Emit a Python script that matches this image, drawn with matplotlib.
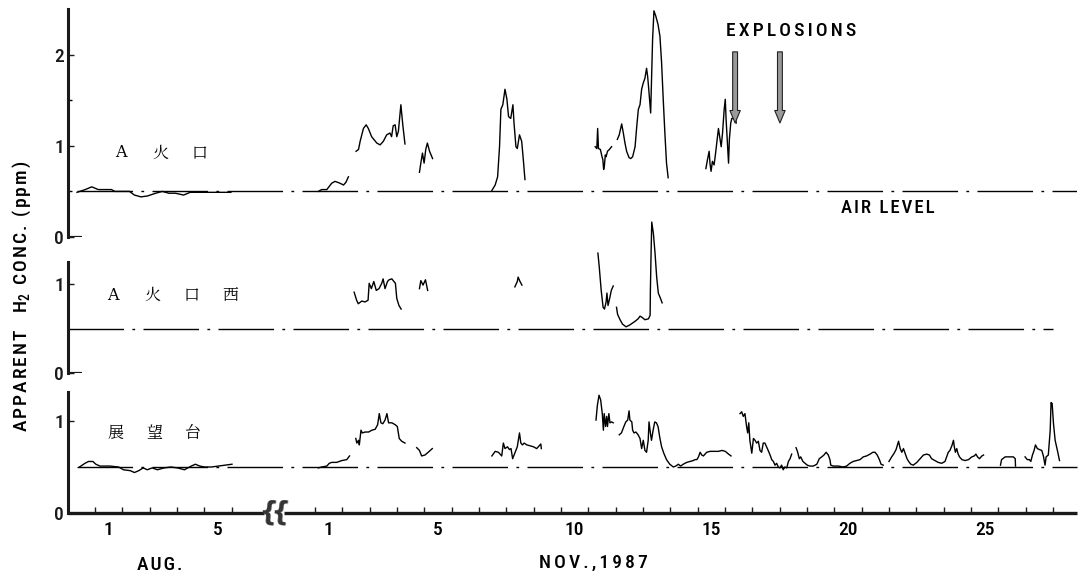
import numpy as np
import matplotlib
matplotlib.use('Agg')
import matplotlib.pyplot as plt

plt.rcParams['font.family'] = ['Roboto Condensed', 'Roboto', 'DejaVu Sans']
plt.rcParams['font.weight'] = 'medium'
plt.rcParams['mathtext.fontset'] = 'custom'
plt.rcParams['mathtext.rm'] = 'Roboto Condensed:medium'

# ---------------- data (day-of-month, fractional; d=1.0 is 00:00 of the 1st) -------------
aug_tick_days = [1, 2, 3, 4, 5, 6]
nov_tick_days = list(range(1, 29))
aug_label_days = [1, 5]
nov_label_days = [1, 5, 10, 15, 20, 25]
air_level = 0.5
explosion_days_nov = [16.37, 18.01]
station_names = [["A", "火", "口"], ["A", "火", "口", "西"], ["展", "望", "台"]]

# --- A火口 (top panel)
top_aug_t = [0.34, 0.64, 0.88, 1.12, 1.42, 1.60, 1.72, 2.14, 2.26, 2.44, 2.68, 2.92, 3.22, 3.46,
             3.70, 3.94, 4.24, 4.48, 4.78, 5.02, 5.26, 5.56, 5.97]
top_aug_v = [0.49, 0.52, 0.55, 0.52, 0.52, 0.52, 0.50, 0.50, 0.50, 0.46, 0.44, 0.45, 0.48, 0.50,
             0.48, 0.48, 0.46, 0.49, 0.49, 0.49, 0.49, 0.49, 0.49]
top_nov_t = [
    [1.12, 1.24, 1.43, 1.61, 1.73, 1.91, 2.04, 2.13, 2.22],
    [2.50, 2.59, 2.65, 2.77, 2.87, 2.95, 3.07, 3.26, 3.38, 3.50, 3.62, 3.74, 3.80, 3.86, 3.93,
     3.99, 4.05, 4.14, 4.21, 4.29],
    [4.82, 4.87, 4.93, 4.99, 5.05, 5.11, 5.19, 5.30],
    [7.47, 7.59, 7.68, 7.75, 7.80, 7.87, 7.95, 8.02, 8.08, 8.16, 8.24, 8.28, 8.35, 8.40, 8.48,
     8.56, 8.62, 8.68],
    [11.25, 11.31, 11.34, 11.37, 11.44, 11.50, 11.53, 11.56, 11.59, 11.62, 11.65, 11.70, 11.77, 11.85],
    [12.06, 12.13, 12.22, 12.28, 12.34, 12.40, 12.49, 12.55, 12.62, 12.71, 12.77, 12.83, 12.89,
     12.95, 13.01, 13.07, 13.13, 13.17, 13.21, 13.28, 13.31, 13.35, 13.40, 13.47, 13.55, 13.62,
     13.68, 13.74, 13.80, 13.86, 13.92],
    [15.30, 15.36, 15.42, 15.45, 15.49, 15.54, 15.60, 15.64, 15.70, 15.76, 15.82, 15.86, 15.91,
     15.97, 16.01, 16.04, 16.09, 16.13, 16.16, 16.21, 16.25, 16.31, 16.37, 16.41],
]
top_nov_v = [
    [0.50, 0.52, 0.52, 0.59, 0.61, 0.59, 0.57, 0.60, 0.66],
    [0.94, 0.96, 1.05, 1.19, 1.23, 1.19, 1.10, 1.03, 1.01, 1.05, 1.12, 1.14, 1.10, 1.22, 1.23,
     1.10, 1.16, 1.45, 1.23, 1.02],
    [0.71, 0.81, 0.92, 0.81, 0.96, 1.03, 0.94, 0.86],
    [0.51, 0.57, 0.66, 0.99, 1.40, 1.45, 1.62, 1.51, 1.32, 1.30, 1.45, 1.25, 0.99, 0.97, 1.12,
     1.05, 0.85, 0.63],
    [0.99, 0.97, 1.19, 0.97, 0.96, 0.88, 0.85, 0.74, 0.79, 0.90, 0.88, 0.94, 0.96, 0.99],
    [1.07, 1.12, 1.24, 1.14, 1.03, 0.94, 0.87, 0.86, 0.88, 0.99, 1.21, 1.40, 1.45, 1.62, 1.69,
     1.74, 1.85, 1.76, 1.62, 1.36, 1.69, 2.16, 2.48, 2.42, 2.33, 2.20, 1.91, 1.51, 1.14, 0.81, 0.65],
    [0.75, 0.85, 0.94, 0.81, 0.72, 0.83, 0.79, 0.88, 1.03, 1.19, 1.07, 0.99, 1.14, 1.40, 1.51,
     1.29, 1.03, 0.81, 1.07, 1.25, 1.30, 1.30, 1.34, 1.25],
]

# --- A火口西 (middle panel)
mid_nov_t = [
    [2.43, 2.52, 2.58, 2.71, 2.83, 2.94, 2.98, 3.06, 3.15, 3.24, 3.34, 3.44, 3.49, 3.56, 3.65,
     3.71, 3.81, 3.86, 3.94, 3.99, 4.07, 4.15],
    [4.82, 4.87, 4.95, 5.04, 5.12],
    [8.31, 8.40, 8.43, 8.50, 8.57],
    [11.35, 11.40, 11.47, 11.54, 11.59, 11.65, 11.68, 11.72, 11.78, 11.84, 11.91],
    [12.03, 12.07, 12.16, 12.25, 12.38, 12.51, 12.70, 12.82, 12.89, 12.95, 13.07, 13.20, 13.26,
     13.27, 13.29, 13.32, 13.38, 13.44, 13.50, 13.56, 13.64, 13.70],
]
mid_nov_v = [
    [0.91, 0.82, 0.78, 0.81, 0.80, 0.82, 1.01, 0.95, 1.03, 0.93, 0.95, 1.01, 1.06, 0.95, 1.03,
     1.05, 1.06, 1.04, 1.01, 0.84, 0.76, 0.72],
    [0.95, 1.04, 0.99, 1.05, 0.93],
    [0.97, 1.03, 1.08, 1.03, 0.99],
    [1.35, 1.19, 0.93, 0.74, 0.72, 0.80, 0.90, 0.76, 0.84, 0.93, 0.98],
    [0.74, 0.66, 0.60, 0.55, 0.52, 0.54, 0.58, 0.61, 0.64, 0.63, 0.60, 0.61, 0.65, 0.93, 1.27,
     1.70, 1.57, 1.35, 1.08, 0.90, 0.84, 0.79],
]

# --- 展望台 (bottom panel)
bot_aug_t = [0.43, 0.63, 0.76, 0.92, 1.03, 1.18, 1.55, 1.86, 2.04, 2.29, 2.44, 2.60, 2.76, 2.91,
             3.09, 3.28, 3.53, 3.77, 4.02, 4.27, 4.52, 4.67, 4.83, 5.01, 5.26, 5.51, 5.76, 6.01]
bot_aug_v = [0.50, 0.54, 0.56, 0.56, 0.53, 0.51, 0.51, 0.50, 0.47, 0.46, 0.44, 0.46, 0.49, 0.47,
             0.49, 0.47, 0.49, 0.50, 0.49, 0.47, 0.51, 0.53, 0.51, 0.50, 0.50, 0.51, 0.52, 0.53]
bot_nov_t = [
    [1.12, 1.24, 1.43, 1.52, 1.61, 1.79, 1.98, 2.16, 2.26],
    [2.49, 2.53, 2.59, 2.62, 2.68, 2.73, 2.83, 2.96, 3.08, 3.20, 3.29, 3.35, 3.41, 3.48, 3.56,
     3.63, 3.69, 3.81, 3.93, 4.01, 4.08, 4.17, 4.29],
    [4.72, 4.82, 4.90, 5.02, 5.14, 5.29],
    [7.47, 7.59, 7.71, 7.83, 7.89, 7.95, 8.04, 8.11, 8.17, 8.23, 8.32, 8.40, 8.48, 8.53, 8.59,
     8.65, 8.75, 8.87, 8.99, 9.11, 9.26, 9.28],
    [11.28, 11.33, 11.39, 11.45, 11.51, 11.55, 11.58, 11.63, 11.67, 11.70, 11.75, 11.79, 11.85, 11.91],
    [12.13, 12.21, 12.30, 12.37, 12.44, 12.49, 12.52, 12.59, 12.62, 12.67, 12.74, 12.82, 12.89,
     12.95, 13.01, 13.07, 13.13, 13.19, 13.22, 13.27, 13.31, 13.37, 13.43, 13.49, 13.55, 13.62,
     13.68, 13.76, 13.86, 13.98, 14.11, 14.20, 14.29, 14.38, 14.47, 14.60, 14.72, 14.84, 14.90,
     14.97, 15.03, 15.09, 15.15, 15.21, 15.33, 15.46, 15.58, 15.76, 15.89, 16.01, 16.13, 16.22],
    [16.55, 16.61, 16.67, 16.73, 16.79, 16.83, 16.87, 16.91, 16.98, 17.04, 17.10, 17.16, 17.22,
     17.28, 17.34, 17.40, 17.46, 17.52, 17.58, 17.65, 17.71, 17.77, 17.83, 17.89, 17.95, 18.01,
     18.07, 18.13, 18.19, 18.26, 18.32, 18.38, 18.44],
    [18.60, 18.65, 18.72, 18.77, 18.85, 18.93, 19.01, 19.11, 19.23, 19.36, 19.45, 19.54, 19.62,
     19.70, 19.78, 19.84, 19.87, 19.96, 20.15, 20.33, 20.45, 20.57, 20.69, 20.82, 20.94, 21.06,
     21.18, 21.31, 21.41, 21.49, 21.57, 21.65, 21.71, 21.79],
    [22.00, 22.10, 22.19, 22.26, 22.35, 22.41, 22.47, 22.53, 22.59, 22.66, 22.72, 22.80, 22.89,
     23.02, 23.14, 23.26, 23.38, 23.48, 23.56, 23.68, 23.80, 23.93, 24.05, 24.11, 24.17, 24.23,
     24.30, 24.36, 24.39, 24.43, 24.48, 24.52, 24.58, 24.67, 24.79, 24.91, 25.03, 25.12, 25.18,
     25.24, 25.31, 25.40, 25.46],
    [26.08, 26.12, 26.25, 26.37, 26.55, 26.62, 26.63],
    [26.98, 27.06, 27.14, 27.19, 27.25, 27.31, 27.36, 27.43, 27.50, 27.59, 27.65, 27.71, 27.75,
     27.83, 27.90, 27.93, 27.97, 28.02, 28.08, 28.17, 28.24],
]
bot_nov_v = [
    [0.49, 0.50, 0.51, 0.54, 0.55, 0.55, 0.57, 0.58, 0.62],
    [0.81, 0.76, 0.79, 0.74, 0.90, 0.87, 0.88, 0.88, 0.90, 0.91, 0.96, 1.08, 0.98, 0.97, 1.01,
     1.08, 0.98, 0.98, 0.96, 0.94, 0.81, 0.78, 0.76],
    [0.71, 0.68, 0.62, 0.63, 0.66, 0.70],
    [0.62, 0.67, 0.66, 0.62, 0.76, 0.70, 0.72, 0.69, 0.70, 0.59, 0.66, 0.72, 0.87, 0.76, 0.74,
     0.76, 0.74, 0.73, 0.72, 0.70, 0.75, 0.70],
    [1.01, 1.17, 1.28, 1.23, 1.08, 0.90, 1.08, 0.94, 1.05, 0.94, 1.08, 0.98, 0.99, 0.98],
    [0.85, 0.87, 0.94, 0.99, 1.01, 1.11, 1.01, 0.99, 0.90, 0.87, 0.88, 0.85, 0.81, 0.70, 0.79,
     0.68, 0.66, 0.79, 0.99, 0.87, 0.79, 0.90, 0.99, 0.98, 0.94, 0.81, 0.72, 0.65, 0.58, 0.53,
     0.50, 0.51, 0.53, 0.51, 0.53, 0.55, 0.56, 0.57, 0.58, 0.58, 0.61, 0.66, 0.63, 0.62, 0.66,
     0.67, 0.67, 0.67, 0.68, 0.67, 0.64, 0.62],
    [1.08, 1.10, 1.05, 1.08, 0.94, 0.87, 0.98, 0.79, 0.65, 0.81, 0.79, 0.76, 0.78, 0.68, 0.66,
     0.76, 0.76, 0.72, 0.68, 0.63, 0.58, 0.56, 0.52, 0.54, 0.50, 0.49, 0.52, 0.47, 0.50, 0.49,
     0.56, 0.59, 0.64],
    [0.71, 0.67, 0.59, 0.61, 0.56, 0.54, 0.52, 0.51, 0.51, 0.53, 0.59, 0.61, 0.63, 0.66, 0.63,
     0.58, 0.52, 0.51, 0.51, 0.50, 0.51, 0.54, 0.56, 0.57, 0.58, 0.61, 0.62, 0.64, 0.66, 0.66,
     0.63, 0.58, 0.53, 0.52],
    [0.56, 0.61, 0.65, 0.69, 0.78, 0.70, 0.66, 0.70, 0.65, 0.59, 0.56, 0.53, 0.52, 0.55, 0.59,
     0.63, 0.64, 0.63, 0.59, 0.57, 0.55, 0.54, 0.56, 0.61, 0.66, 0.68, 0.73, 0.79, 0.72, 0.66,
     0.70, 0.65, 0.61, 0.58, 0.57, 0.58, 0.61, 0.62, 0.64, 0.61, 0.59, 0.62, 0.63],
    [0.52, 0.58, 0.61, 0.61, 0.61, 0.59, 0.51],
    [0.61, 0.58, 0.58, 0.56, 0.63, 0.68, 0.74, 0.70, 0.69, 0.68, 0.62, 0.52, 0.61, 0.63, 0.90,
     1.20, 1.19, 0.97, 0.79, 0.67, 0.57],
]

# ---------------- layout helpers ----------------
NOV_OFFSET = 8.05          # Nov 1 00:00 position, in day-widths from Aug 1 00:00
XLIM = (-0.99, 35.93)
W_PX, H_PX = 1080, 578
HS = '\u200a'              # hair space (letter spacing)
SS = '\u2006'              # six-per-em space (wider letter spacing)


def spaced(s, sep=HS):
    return sep.join(s)


def aug_x(d):
    return np.asarray(d, dtype=float) - 1.0


def nov_x(d):
    return np.asarray(d, dtype=float) - 1.0 + NOV_OFFSET


def join(segs_t, segs_v):
    t, v = [], []
    for a, b in zip(segs_t, segs_v):
        assert len(a) == len(b), (len(a), len(b))
        t += list(a) + [np.nan]
        v += list(b) + [np.nan]
    return np.array(t), np.array(v)


fig = plt.figure(figsize=(10.8, 5.78), dpi=100)
L = 68 / W_PX
WID = (1077 - 68) / W_PX
ax_top = fig.add_axes([L, 1 - 237 / H_PX, WID, 228 / H_PX])
ax_mid = fig.add_axes([L, 1 - 373 / H_PX, WID, 111 / H_PX])
ax_bot = fig.add_axes([L, 1 - 513 / H_PX, WID, 121 / H_PX])
ylims = [(0, 2.5), (0, 1.25), (0, 1.315)]

DASHDOT = (0, (40, 6, 2, 6))
SPINE_C = '#1a1a1a'
TXT_FS = 14
for ax, yl in zip((ax_top, ax_mid, ax_bot), ylims):
    ax.set_xlim(*XLIM)
    ax.set_ylim(*yl)
    ax.patch.set_alpha(0)
    for s in ('top', 'right', 'bottom'):
        ax.spines[s].set_visible(False)
    ax.spines['left'].set_linewidth(2.2)
    ax.spines['left'].set_color(SPINE_C)
    ax.tick_params(axis='y', direction='in', length=4, width=1, labelsize=TXT_FS, pad=3,
                   colors=SPINE_C)

ax_top.set_yticks([0, 1, 2])
ax_top.set_yticks([0.5, 1.5], minor=True)
ax_top.tick_params(axis='y', which='minor', direction='in', length=3, width=1)
ax_mid.set_yticks([0, 1])
ax_bot.set_yticks([0, 1])
for ax in (ax_top, ax_mid):
    ax.set_xticks([])
    ax.hlines(0, XLIM[0], XLIM[0] + 0.5, color=SPINE_C, lw=1.6)

# air levels
ax_top.hlines(air_level, aug_x(0.34), XLIM[1], colors='black', lw=1.0, linestyles=[DASHDOT])
ax_mid.hlines(air_level, XLIM[0], nov_x(28.0), colors='black', lw=1.0, linestyles=[DASHDOT])
ax_bot.hlines(air_level, aug_x(0.34), XLIM[1], colors='black', lw=1.0, linestyles=[DASHDOT],
              clip_on=False)

# data traces
LW = 1.0
ax_top.plot(aug_x(top_aug_t), top_aug_v, color='black', lw=LW, clip_on=False)
t, v = join(top_nov_t, top_nov_v)
ax_top.plot(nov_x(t), v, color='black', lw=LW, clip_on=False)
t, v = join(mid_nov_t, mid_nov_v)
ax_mid.plot(nov_x(t), v, color='black', lw=LW, clip_on=False)
ax_bot.plot(aug_x(bot_aug_t), bot_aug_v, color='black', lw=LW, clip_on=False)
t, v = join(bot_nov_t, bot_nov_v)
ax_bot.plot(nov_x(t), v, color='black', lw=LW, clip_on=False)

# bottom axis with break
brk_a, brk_b = 6.18, 6.92
ax_bot.plot([XLIM[0], brk_a], [0, 0], color=SPINE_C, lw=2.4, clip_on=False, solid_capstyle='butt')
ax_bot.plot([brk_b, XLIM[1]], [0, 0], color=SPINE_C, lw=2.4, clip_on=False, solid_capstyle='butt')
for bx in (6.33, 6.77):
    ax_bot.text(bx, 0.0, '{', ha='center', va='center', fontsize=19, color='#333',
                family='DejaVu Sans', fontweight='bold', rotation=-6)
major = list(aug_x(aug_tick_days)) + list(nov_x(nov_tick_days))
ax_bot.set_xticks(major)
ax_bot.set_xticklabels([])
ax_bot.tick_params(axis='x', which='major', direction='in', length=4, width=1, colors=SPINE_C)
minor = list(aug_x(np.array(aug_label_days) + 0.5)) + list(nov_x(np.array(nov_label_days) + 0.5))
ax_bot.set_xticks(minor, minor=True)
ax_bot.set_xticklabels([str(d) for d in aug_label_days] + [str(d) for d in nov_label_days],
                       minor=True)
ax_bot.tick_params(axis='x', which='minor', length=0, labelsize=TXT_FS, pad=6)

# month labels
fig.text(160 / W_PX, 1 - 565 / H_PX, spaced('AUG.'), ha='center', va='center', fontsize=TXT_FS)
fig.text(593 / W_PX, 1 - 563 / H_PX, spaced('NOV.,1987', SS), ha='center', va='center',
         fontsize=TXT_FS)

# y label
ylab = (spaced('APPARENT') + '\u2003' + '$\\mathregular{H_2}$' + '\u2002' + spaced('CONC.')
        + '\u2002' + spaced('(ppm)'))
fig.text(22 / W_PX, 1 - 296 / H_PX, ylab, rotation=90, ha='center', va='center', fontsize=TXT_FS)

# annotations
fig.text(791 / W_PX, 1 - 31 / H_PX, spaced('EXPLOSIONS', SS), ha='center', va='center',
         fontsize=TXT_FS)
fig.text(888 / W_PX, 1 - 208 / H_PX, spaced('AIR LEVEL'), ha='center', va='center',
         fontsize=13.5)
for xd in explosion_days_nov:
    ax_top.annotate('', xy=(nov_x(xd), 1.25), xytext=(nov_x(xd), 2.03),
                    arrowprops=dict(arrowstyle='simple,head_width=0.75,head_length=0.9,tail_width=0.35',
                                    mutation_scale=10, fc='#9a9a9a', ec='#222', lw=0.8,
                                    shrinkA=0, shrinkB=0),
                    annotation_clip=False)

# station names
name_pos = [(121, 153), (113, 295), (115, 433)]
for names, (x0, y0) in zip(station_names, name_pos):
    for i, ch in enumerate(names):
        fam = ['DejaVu Serif'] if ch.isascii() else ['Noto Serif CJK JP', 'Noto Sans CJK JP']
        fig.text((x0 + 39 * i) / W_PX, 1 - y0 / H_PX, ch, ha='center', va='center',
                 fontsize=11.5, family=fam, fontweight='normal')

fig.savefig('out.png', dpi=100)
